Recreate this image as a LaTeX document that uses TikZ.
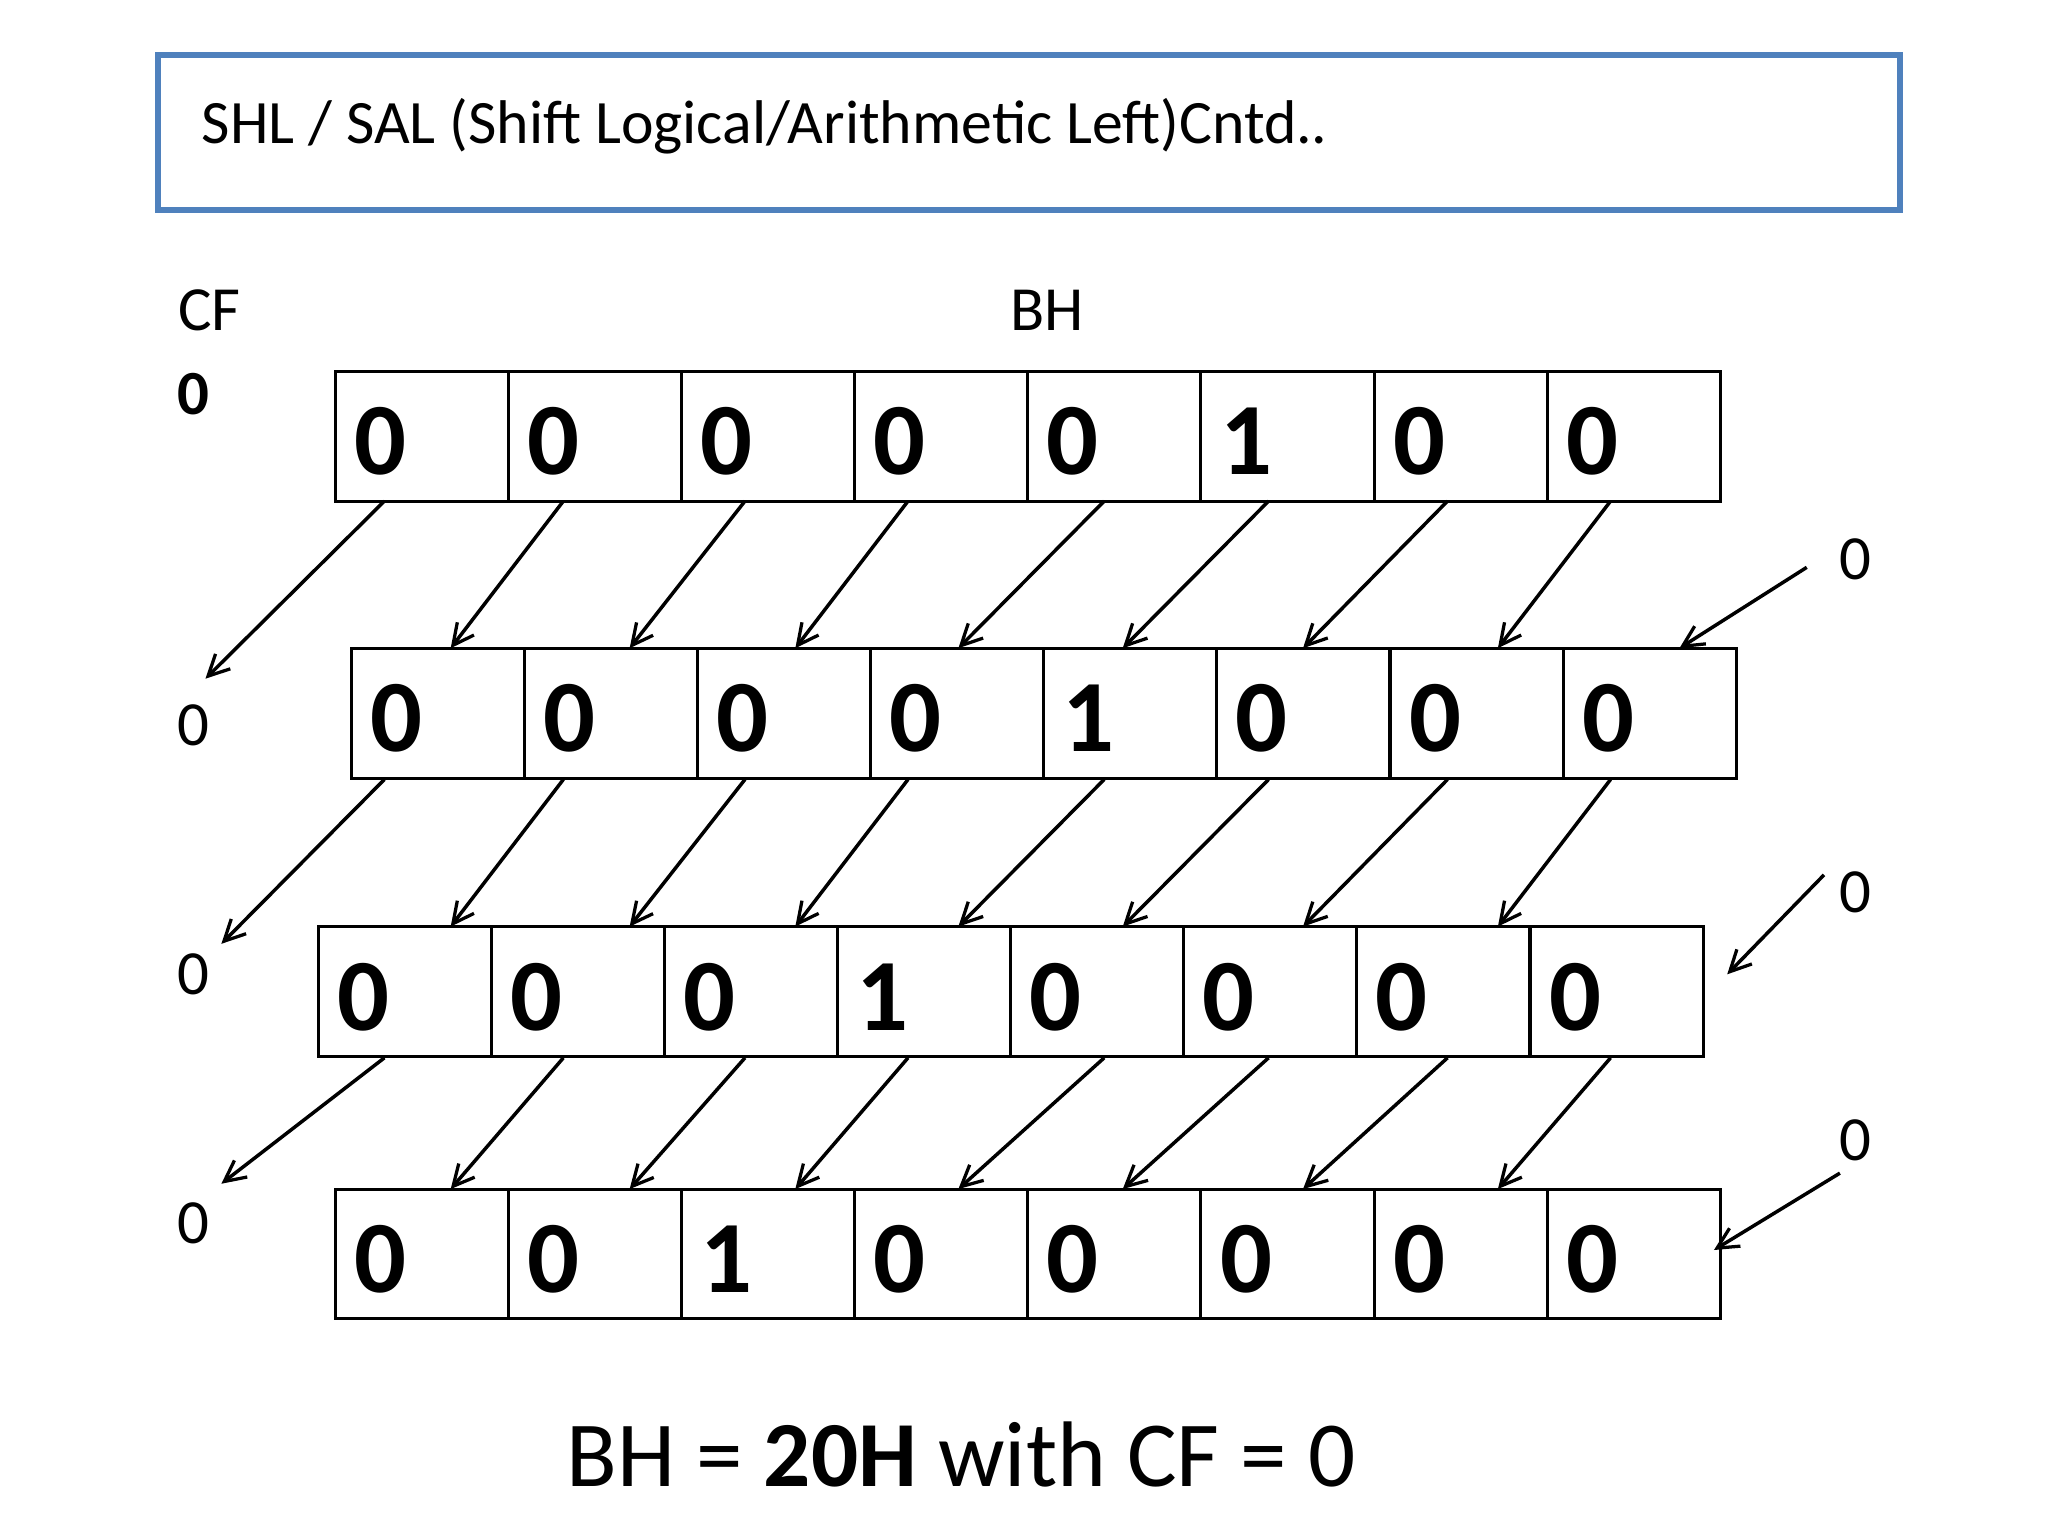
\documentclass[tikz,border=0pt]{standalone}
\usepackage{fontspec}
\setmainfont{Carlito}
\usetikzlibrary{arrows.meta}
\definecolor{boxblue}{HTML}{4F81BD}
\begin{document}
\begin{tikzpicture}[x=0.02cm,y=-0.02cm,
  cell/.style={draw,line width=1.3pt,minimum width=130.6*0.02cm,minimum height=98*0.02cm,inner sep=0,outer sep=0},
  dig/.style={anchor=west,font=\fontsize{44}{50}\selectfont\bfseries,inner sep=0},
  lab/.style={font=\fontsize{27}{32}\selectfont},
  arr/.style={-{Straight Barb[length=9pt,width=9pt,line width=1.4pt]},line width=1.5pt}]
\useasboundingbox (0,0) rectangle (1545,1159);
\node[draw=boxblue,line width=2.6pt,minimum width=1314*0.02cm,minimum height=117*0.02cm,anchor=north west] (title) at (117,39) {};
\node[anchor=west,font=\fontsize{26.5}{30}\selectfont] (tt) at (146,95) {SHL / SAL (Shift Logical/Arithmetic Left)Cntd..};
\node[lab] (cf) at (158,234) {CF};
\node[lab,font=\fontsize{27}{32}\selectfont\bfseries] (cf0) at (146,297) {0};
\node[lab] (bh) at (790,234) {BH};
\def\rowdraw#1#2#3#4{%
  \foreach \d [count=\i from 0] in {#4} {
    \node[cell,anchor=north west] (r#1c\i) at (#2+\i*130.6,#3) {};
    \node[dig] at (#2+\i*130.6+14,#3+53) {\d};
  }}
\rowdraw{1}{253}{280}{0,0,0,0,0,1,0,0}
\rowdraw{2}{265}{489}{0,0,0,0,1,0,0,0}
\rowdraw{3}{240}{699}{0,0,0,1,0,0,0,0}
\rowdraw{4}{253}{897}{0,0,1,0,0,0,0,0}
\node[lab] (l2) at (146,547) {0};
\node[lab] (l3) at (146,735) {0};
\node[lab] (l4) at (146,923) {0};
\node[lab] (z2) at (1400,422) {0};
\node[lab] (z3) at (1400,673) {0};
\node[lab] (z4) at (1400,860) {0};
\foreach \ya/\yb/\cx/\cy in {378/489/155/512, 588/699/167/712, 798/897/167/893} {
  \draw[arr] (290,\ya) -- (\cx,\cy);
  \foreach \sx/\ex in {425/340,562/475,685/600,833/723,957/847,1092/983,1215/1130}
    \draw[arr] (\sx,\ya) -- (\ex,\yb);
}
\draw[arr] (1363,428) -- (1267,489);
\draw[arr] (1376,660) -- (1303,735);
\draw[arr] (1388,885) -- (1293,943);
\node[font=\fontsize{40}{46}\selectfont] (res) at (725,1097) {BH = \textbf{20H} with CF = 0};
\end{tikzpicture}
\end{document}
